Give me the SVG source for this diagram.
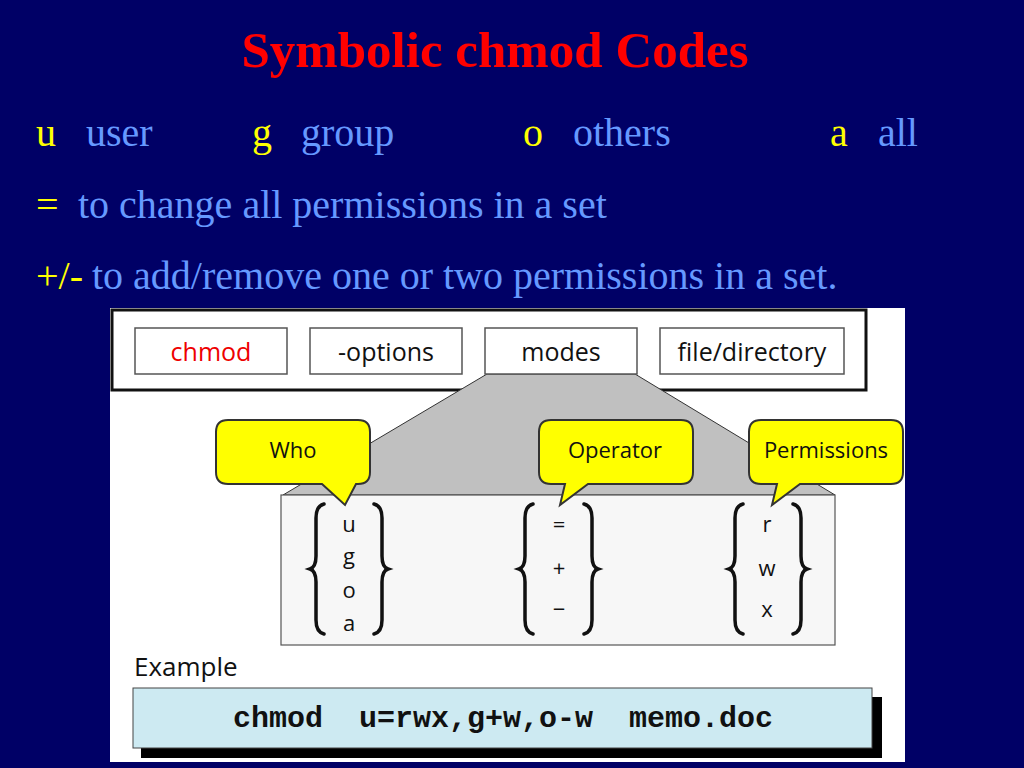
<svg xmlns="http://www.w3.org/2000/svg" width="1024" height="768" viewBox="0 0 1024 768">
<style>
.h{font-family:"Liberation Serif",serif;font-size:40px}
.y{fill:#ffff00}.b{fill:#6699ff}
.s{font-family:"Open Sans","DejaVu Sans",sans-serif;font-size:25px;fill:#111}
.bx{fill:#fff;stroke:#555;stroke-width:1.5}
.cl{fill:#ffff00;stroke:#333;stroke-width:2}
.br{fill:none;stroke:#111;stroke-width:3.5;stroke-linecap:round}
</style>
<defs>
<path id="lb" d="M12,0 Q4,2 4,14 V52 Q4,63 -2,65 Q4,67 4,78 V116 Q4,128 12,130"/>
<path id="rb" d="M-12,0 Q-4,2 -4,14 V52 Q-4,63 2,65 Q-4,67 -4,78 V116 Q-4,128 -12,130"/>
</defs>
<rect width="1024" height="768" fill="#000066"/>
<text x="495" y="67" text-anchor="middle" font-family="Liberation Serif,serif" font-size="51" font-weight="bold" fill="#ff0000">Symbolic chmod Codes</text>
<text class="h" y="146"><tspan x="36" class="y">u</tspan><tspan x="86" class="b">user</tspan><tspan x="252" class="y">g</tspan><tspan x="301" class="b">group</tspan><tspan x="523" class="y">o</tspan><tspan x="573" class="b">others</tspan><tspan x="830" class="y">a</tspan><tspan x="878" class="b">all</tspan></text>
<text class="h" y="218"><tspan x="36" class="y">=</tspan><tspan x="78" class="b">to change all permissions in a set</tspan></text>
<text class="h" y="289"><tspan x="36" class="y">+/-</tspan><tspan x="92" class="b">to add/remove one or two permissions in a set.</tspan></text>
<rect x="110" y="308" width="795" height="454" fill="#fff"/>
<g id="bar"><rect x="112" y="310" width="754" height="80" fill="#fff" stroke="#111" stroke-width="3"/></g>
<g id="connectors"><polygon points="487,374 635,374 835,495 283,495" fill="#c0c0c0" stroke="#333" stroke-width="1"/></g>
<g id="chmod"><rect class="bx" x="135" y="328" width="152" height="46"/><text class="s" x="211" y="361" text-anchor="middle" style="fill:#e00">chmod</text></g>
<g id="options"><rect class="bx" x="310" y="328" width="152" height="46"/><text class="s" x="386" y="361" text-anchor="middle">-options</text></g>
<g id="modes"><rect class="bx" x="485" y="328" width="152" height="46"/><text class="s" x="561" y="361" text-anchor="middle">modes</text></g>
<g id="file"><rect class="bx" x="660" y="328" width="184" height="46"/><text class="s" x="752" y="361" text-anchor="middle">file/directory</text></g>
<g id="values"><rect x="281" y="495" width="554" height="150" fill="#f7f7f7" stroke="#555" stroke-width="1.2"/>
<use href="#lb" x="312" y="504" class="br"/><use href="#rb" x="386" y="504" class="br"/>
<use href="#lb" x="521" y="504" class="br"/><use href="#rb" x="596" y="504" class="br"/>
<use href="#lb" x="731" y="504" class="br"/><use href="#rb" x="805" y="504" class="br"/>
<g class="s" text-anchor="middle" style="font-size:22px"><text x="349" y="532">u</text><text x="349" y="564">g</text><text x="349" y="598">o</text><text x="349" y="631">a</text>
<text x="559" y="532">=</text><text x="559" y="576">+</text><text x="559" y="617">−</text>
<text x="767" y="532">r</text><text x="767" y="576">w</text><text x="767" y="617">x</text></g></g>
<g id="who"><path class="cl" d="M228,420 H358 Q370,420 370,432 V472 Q370,484 358,484 H356 L345,505 L322,484 H228 Q216,484 216,472 V432 Q216,420 228,420Z"/><text class="s" x="293" y="458" text-anchor="middle" style="font-size:22px">Who</text></g>
<g id="operator"><path class="cl" d="M551,420 H681 Q693,420 693,432 V472 Q693,484 681,484 H588 L560,505 L565,484 H551 Q539,484 539,472 V432 Q539,420 551,420Z"/><text class="s" x="615" y="458" text-anchor="middle" style="font-size:22px">Operator</text></g>
<g id="permissions"><path class="cl" d="M761,420 H891 Q903,420 903,432 V472 Q903,484 891,484 H800 L772,505 L777,484 H761 Q749,484 749,472 V432 Q749,420 761,420Z"/><text class="s" x="826" y="458" text-anchor="middle" style="font-size:22px">Permissions</text></g>
<text class="s" x="134" y="676" style="font-size:26px">Example</text>
<g id="example"><rect x="141" y="697" width="741" height="61" fill="#000"/><rect x="133" y="688" width="739" height="60" fill="#cdeaf2" stroke="#444"/>
<text x="503" y="727" text-anchor="middle" font-family="Liberation Mono,monospace" font-size="30" font-weight="bold" fill="#111" xml:space="preserve">chmod  u=rwx,g+w,o-w  memo.doc</text></g>
</svg>
